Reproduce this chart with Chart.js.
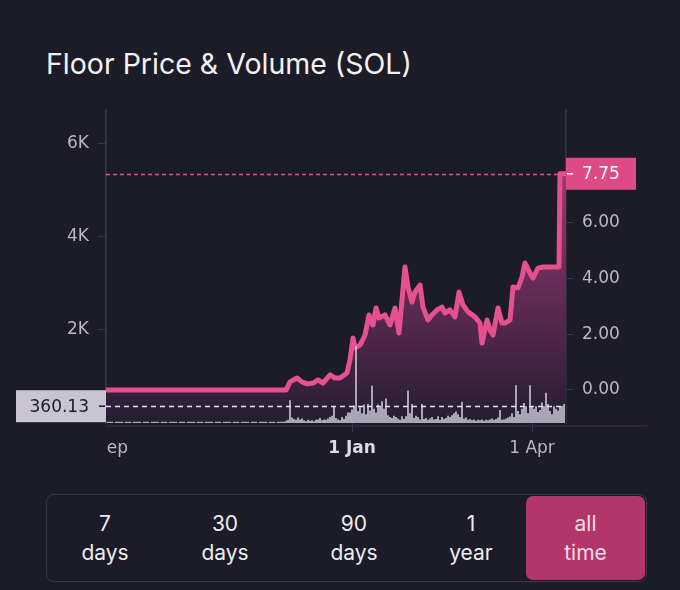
<!DOCTYPE html>
<html>
<head>
<meta charset="utf-8">
<script src="https://cdn.jsdelivr.net/npm/chart.js@4.4.0/dist/chart.umd.min.js"></script>
<style>
  html, body { margin: 0; padding: 0; background: #1c1b28; }
  body { width: 680px; height: 590px; position: relative; overflow: hidden; font-family: Inter, sans-serif; }
  #title { position: absolute; left: 46px; top: 50px; margin: 0; color: #f2f2f4; font-size: 28.5px; line-height: 28px; font-weight: 400; }
  #wrap { position: absolute; left: 0; top: 0; width: 680px; height: 480px; }
  .range { position: absolute; left: 46px; top: 494px; width: 599px; height: 86px; border: 1.5px solid #393848; border-radius: 8px; }
  .btn { position: absolute; top: 0; height: 86px; display: flex; align-items: center; justify-content: center;
         text-align: center; color: #ececf0; font-size: 21px; line-height: 29px; }
  .btn.active { background: #b2366a; border-radius: 7px; color: #f5d8e5; top: 1px; height: 84px; }
</style>
</head>
<body>
<h1 id="title">Floor Price &amp; Volume (SOL)</h1>
<div id="wrap"><canvas id="chart" width="680" height="480"></canvas></div>
<div class="range">
  <div class="btn" style="left:3px;width:110px">7<br>days</div>
  <div class="btn" style="left:123px;width:110px">30<br>days</div>
  <div class="btn" style="left:252px;width:110px">90<br>days</div>
  <div class="btn" style="left:369px;width:110px">1<br>year</div>
  <div class="btn active" style="left:479px;width:119px">all<br>time</div>
</div>
<script>
// day 0 = 31 Aug, one value per day
const volume = [
  0, 20, 20, 20, 0, 20, 20, 20, 20, 0,
  20, 20, 20, 0, 20, 20, 20, 20, 0, 20,
  20, 20, 0, 20, 20, 20, 20, 0, 20, 20,
  20, 0, 20, 20, 20, 20, 0, 20, 20, 20,
  0, 20, 20, 20, 20, 0, 20, 20, 20, 0,
  20, 20, 20, 20, 0, 20, 20, 20, 0, 20,
  20, 20, 20, 0, 20, 20, 20, 0, 20, 20,
  20, 20, 0, 20, 20, 20, 0, 20, 20, 20,
  20, 0, 20, 20, 20, 0, 20, 20, 20, 20,
  40, 60, 480, 110, 80, 60, 110, 70, 90, 50,
  30, 60, 40, 50, 30, 60, 70, 100, 50, 70,
  60, 90, 120, 150, 360, 100, 70, 50, 120, 80,
  150, 220, 220, 280, 370, 1650, 250, 330, 200, 390,
  180, 400, 260, 790, 300, 220, 390, 330, 460, 300,
  520, 160, 120, 100, 150, 120, 90, 60, 140, 80,
  140, 690, 200, 400, 100, 150, 120, 70, 400, 80,
  100, 60, 90, 120, 70, 80, 140, 60, 120, 80,
  100, 150, 120, 160, 200, 240, 180, 120, 450, 90,
  110, 60, 80, 50, 70, 40, 60, 50, 70, 40,
  60, 50, 70, 90, 60, 80, 110, 270, 60, 70,
  90, 110, 130, 200, 120, 800, 250, 180, 300, 420,
  350, 200, 800, 360, 300, 350, 230, 270, 430, 360,
  640, 400, 250, 180, 350, 300, 260, 340, 360, 400
];

// floor price: [day, SOL]
const price = [
  [0, 0], [90, 0], [90.5, 0.07], [92, 0.29], [95.5, 0.43], [98, 0.29], [100.5, 0.22],
  [103.5, 0.25], [106, 0.36], [108.5, 0.25], [112, 0.54], [114.5, 0.43], [117, 0.43],
  [120.5, 0.61], [122, 1.08], [123.5, 1.86], [124.5, 1.51], [127, 1.61], [129.5, 1.97],
  [131.5, 2.69], [133.5, 2.33], [135, 2.94], [136.5, 2.58], [139.5, 2.69], [142, 2.33],
  [144.5, 2.94], [146.5, 2.04], [149.5, 4.41], [151, 3.69], [153, 3.15], [154.5, 3.51],
  [157, 3.76], [158.5, 2.97], [161, 2.51], [163, 2.69], [165.5, 2.87], [168, 2.97],
  [169.5, 2.76], [172, 2.87], [174.5, 2.62], [176.5, 3.51], [178.5, 3.05], [181, 2.80],
  [184.5, 2.62], [187, 2.40], [188, 1.68], [190.5, 2.51], [192, 2.15], [193.5, 1.97],
  [196, 2.94], [198, 2.40], [199.5, 2.40], [202, 2.51], [203.5, 3.69], [206, 3.66],
  [208, 4.05], [209.5, 4.55], [212, 4.19], [213.5, 4.01], [216, 4.37], [218.5, 4.41],
  [226.5, 4.41], [227, 7.75], [230, 7.75]
];

const xTickDays = [3, 123, 213];
const xTickLabels = ['Sep', '1 Jan', '1 Apr'];
const volumeTicks = [2000, 4000, 6000];
const priceTicks = [0, 2, 4, 6];
const currentPrice = 7.75;
const currentVolume = 360.13;

const BG = '#1c1b28';
const PINK = '#e5508e';
const AXIS = '#393848';
const LABEL = '#bab7c6';
const tickFont = { family: 'DejaVu Sans', size: 17 };

const markers = {
  id: 'markers',
  afterDatasetsDraw(chart) {
    const { ctx, chartArea, scales } = chart;
    const yp = Math.round(scales.y1.getPixelForValue(currentPrice)) + 0.5;
    const yv = Math.round(scales.y.getPixelForValue(currentVolume)) + 0.5;
    ctx.save();
    ctx.lineWidth = 1.5;
    ctx.setLineDash([4, 3]);
    ctx.strokeStyle = PINK;
    ctx.beginPath();
    ctx.moveTo(chartArea.left, yp);
    ctx.lineTo(chartArea.right, yp);
    ctx.stroke();
    ctx.setLineDash([5, 4]);
    ctx.strokeStyle = '#e6e3ec';
    ctx.beginPath();
    ctx.moveTo(chartArea.left, yv);
    ctx.lineTo(chartArea.right - 2, yv);
    ctx.stroke();
    ctx.restore();
  },
  afterDraw(chart) {
    const { ctx, chartArea, scales } = chart;
    const yp = scales.y1.getPixelForValue(currentPrice);
    const yv = scales.y.getPixelForValue(currentVolume);
    ctx.save();
    // bottom rule, runs under the right labels too
    ctx.strokeStyle = '#2e2d3c';
    ctx.lineWidth = 1.5;
    ctx.beginPath();
    ctx.moveTo(chartArea.left, chartArea.bottom + 3);
    ctx.lineTo(647, chartArea.bottom + 3);
    ctx.stroke();
    // hide the part of the first tick label that falls left of the plot
    ctx.fillStyle = BG;
    ctx.fillRect(0, chartArea.bottom + 12, chartArea.left, 40);

    // price box
    ctx.fillStyle = '#de4a86';
    ctx.fillRect(chartArea.right, yp - 16, 70, 32);
    ctx.strokeStyle = '#ffffff';
    ctx.lineWidth = 1.5;
    ctx.beginPath();
    ctx.moveTo(chartArea.right + 1, yp);
    ctx.lineTo(chartArea.right + 7, yp);
    ctx.stroke();
    ctx.fillStyle = '#ffffff';
    ctx.font = '17px "DejaVu Sans"';
    ctx.textAlign = 'left';
    ctx.textBaseline = 'middle';
    ctx.fillText(currentPrice.toFixed(2), chartArea.right + 16, yp + 1);

    // volume box
    ctx.fillStyle = '#c8c4d2';
    ctx.fillRect(16, yv - 16, chartArea.left - 16, 32);
    ctx.strokeStyle = '#1c1b28';
    ctx.beginPath();
    ctx.moveTo(chartArea.left - 7, yv);
    ctx.lineTo(chartArea.left - 1, yv);
    ctx.stroke();
    ctx.fillStyle = '#1c1b28';
    ctx.textAlign = 'right';
    ctx.fillText(currentVolume.toFixed(2), chartArea.left - 17, yv + 1);
    ctx.restore();
  }
};

new Chart(document.getElementById('chart'), {
  type: 'bar',
  data: {
    datasets: [
      {
        type: 'bar',
        label: 'Volume',
        data: volume.map((v, i) => ({ x: i, y: v })),
        yAxisID: 'y',
        backgroundColor: '#c6c2d0',
        barThickness: 1,
        order: 0
      },
      {
        type: 'line',
        label: 'Floor price',
        data: price.map(p => ({ x: p[0], y: p[1] })),
        yAxisID: 'y1',
        borderColor: PINK,
        borderWidth: 5,
        borderJoinStyle: 'round',
        pointRadius: 0,
        tension: 0,
        fill: 'start',
        backgroundColor: function (context) {
          const area = context.chart.chartArea;
          if (!area) return 'rgba(120,50,100,0.6)';
          const g = context.chart.ctx.createLinearGradient(0, area.top, 0, area.bottom);
          g.addColorStop(0, 'rgb(182,62,136)');
          g.addColorStop(1, 'rgb(38,29,50)');
          return g;
        },
        order: 1
      }
    ]
  },
  options: {
    responsive: false,
    animation: false,
    layout: { padding: { left: 0, right: 0, top: 110, bottom: 12 } },
    plugins: { legend: { display: false }, tooltip: { enabled: false } },
    scales: {
      x: {
        type: 'linear',
        min: 0,
        max: 230,
        offset: false,
        afterBuildTicks: s => { s.ticks = xTickDays.map(v => ({ value: v })); },
        afterFit: s => { s.height = 45; },
        border: { display: false },
        grid: {
          offset: false,
          drawOnChartArea: false,
          tickLength: 9,
          color: c => (c.index === 0 ? 'rgba(0,0,0,0)' : AXIS)
        },
        ticks: {
          autoSkip: false,
          maxRotation: 0,
          padding: 6,
          color: c => (c.index === 1 ? '#dcdae3' : LABEL),
          font: c => (c.index === 1 ? { family: 'DejaVu Sans', size: 17, weight: 'bold' } : tickFont),
          callback: (v, i) => xTickLabels[i]
        }
      },
      y: {
        position: 'left',
        min: 0,
        max: 6710,
        afterBuildTicks: s => { s.ticks = volumeTicks.map(v => ({ value: v })); },
        afterFit: s => { s.width = 106; },
        border: { color: AXIS, width: 1.5 },
        grid: { drawOnChartArea: false, tickLength: 8, color: AXIS },
        ticks: { padding: 9, color: LABEL, font: tickFont, callback: v => v / 1000 + 'K' }
      },
      y1: {
        position: 'right',
        min: -1.183,
        max: 10.036,
        afterBuildTicks: s => { s.ticks = priceTicks.map(v => ({ value: v })); },
        afterFit: s => { s.width = 114; },
        border: { color: AXIS, width: 1.5 },
        grid: { drawOnChartArea: false, tickLength: 7, color: AXIS },
        ticks: { padding: 9, color: LABEL, font: tickFont, callback: v => Number(v).toFixed(2) }
      }
    }
  },
  plugins: [markers]
});
</script>
</body>
</html>
